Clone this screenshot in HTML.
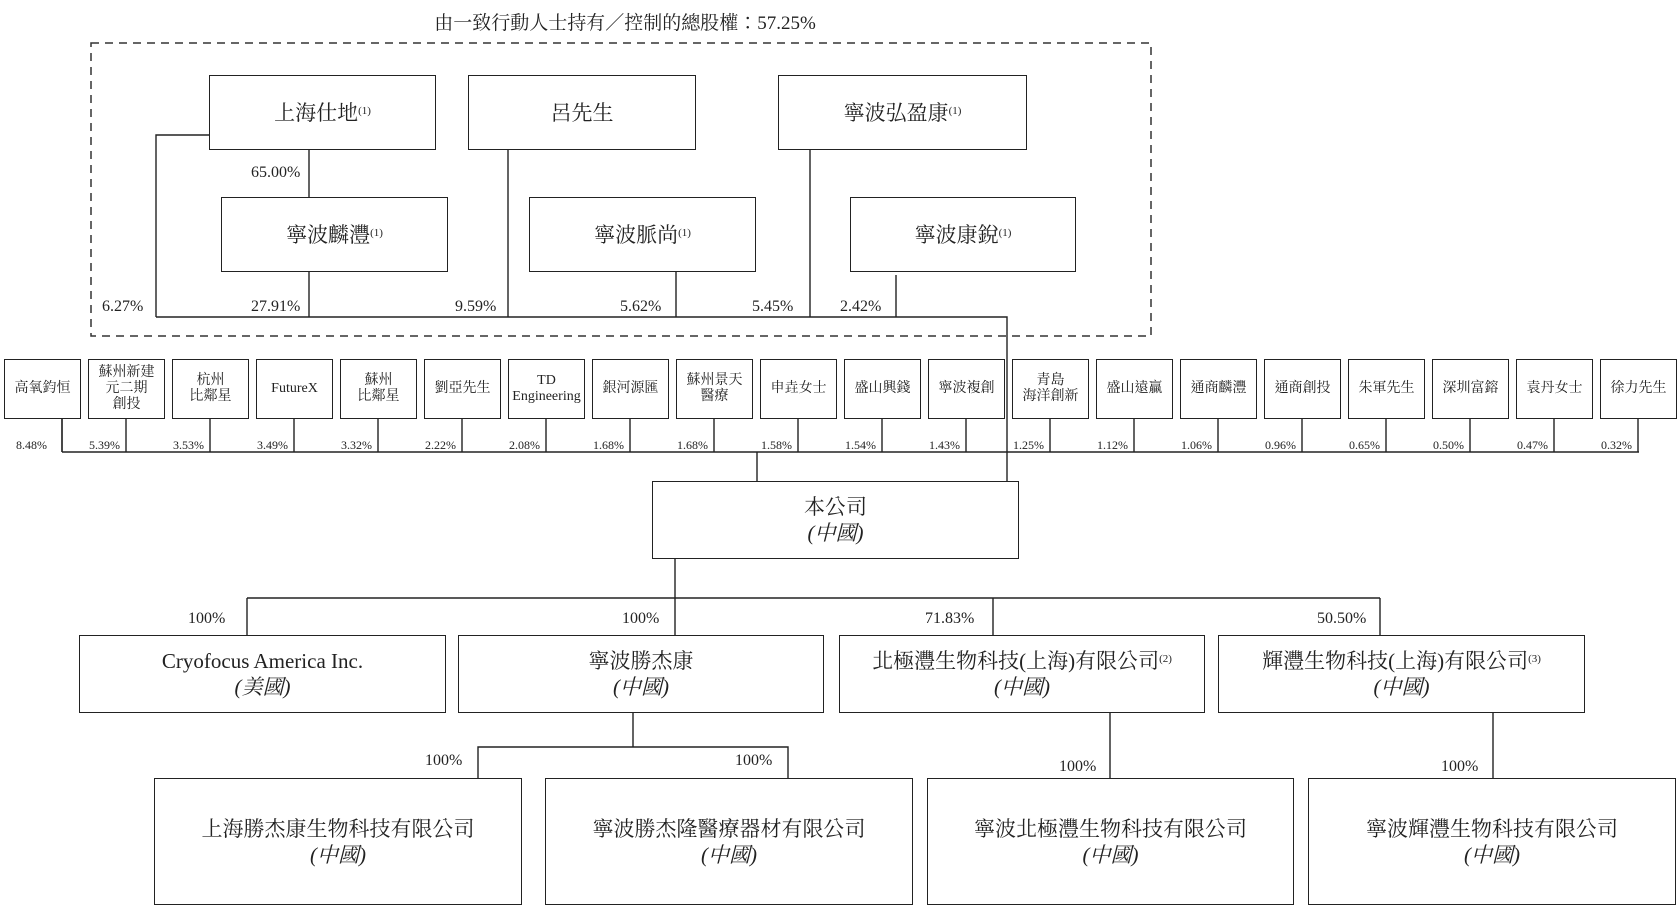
<!DOCTYPE html>
<html><head><meta charset="utf-8"><style>
body{margin:0;width:1680px;height:910px;background:#fff;position:relative;overflow:hidden;font-family:"Liberation Serif","Noto Serif CJK TC","Noto Serif CJK SC",serif;color:#222}
.b{position:absolute;border:1.6px solid #222;box-sizing:border-box;display:flex;flex-direction:column;align-items:center;justify-content:center;text-align:center;background:#fff}
.t{position:absolute;white-space:nowrap}
.s{font-size:14px;line-height:16px}
.p{position:absolute;font-size:12px;white-space:nowrap}
.q{position:absolute;font-size:16px;white-space:nowrap}
.big{font-size:21px;line-height:26px}
i{font-style:italic}
sup{font-size:11px;vertical-align:6px;line-height:0}
svg{position:absolute;left:0;top:0}
</style></head><body>
<svg width="1680" height="910">
<rect x="91" y="43" width="1060" height="293" fill="none" stroke="#333" stroke-width="1.5" stroke-dasharray="8,6"/>
<g stroke="#222" stroke-width="1.4" fill="none">
<polyline points="209,135 156,135 156,317"/>
<line x1="309" y1="150" x2="309" y2="197"/>
<line x1="309" y1="271" x2="309" y2="317"/>
<line x1="508" y1="150" x2="508" y2="317"/>
<line x1="676" y1="271" x2="676" y2="317"/>
<line x1="810" y1="150" x2="810" y2="317"/>
<line x1="896" y1="275" x2="896" y2="317"/>
<polyline points="156,317 1007,317 1007,481"/>
<line x1="62" y1="452" x2="1639" y2="452"/>
<line x1="757" y1="452" x2="757" y2="481"/>
<line x1="62" y1="418" x2="62" y2="452"/>
<g id="st"></g>
<line x1="675" y1="559" x2="675" y2="598"/>
<line x1="247" y1="598" x2="1380" y2="598"/>
<line x1="247" y1="598" x2="247" y2="635"/>
<line x1="675" y1="598" x2="675" y2="635"/>
<line x1="993" y1="598" x2="993" y2="635"/>
<line x1="1380" y1="598" x2="1380" y2="635"/>
<line x1="633" y1="713" x2="633" y2="747"/>
<polyline points="478,778 478,747 788,747 788,778"/>
<line x1="1110" y1="713" x2="1110" y2="778"/>
<line x1="1493" y1="713" x2="1493" y2="778"/>
</g>
</svg>
<div class="t" style="left:0;width:1250px;text-align:center;top:8px;font-size:19px">由一致行動人士持有／控制的總股權：57.25%</div>

<div class="b big" style="left:209px;top:75px;width:227px;height:75px"><div>上海仕地<sup>(1)</sup></div></div>
<div class="b big" style="left:468px;top:75px;width:228px;height:75px"><div>呂先生</div></div>
<div class="b big" style="left:778px;top:75px;width:249px;height:75px"><div>寧波弘盈康<sup>(1)</sup></div></div>
<div class="b big" style="left:221px;top:197px;width:227px;height:75px"><div>寧波麟灃<sup>(1)</sup></div></div>
<div class="b big" style="left:529px;top:197px;width:227px;height:75px"><div>寧波脈尚<sup>(1)</sup></div></div>
<div class="b big" style="left:850px;top:197px;width:226px;height:75px"><div>寧波康銳<sup>(1)</sup></div></div>
<div class="q" style="left:251px;top:164px">65.00%</div>
<div class="q" style="left:102px;top:298px">6.27%</div>
<div class="q" style="left:251px;top:298px">27.91%</div>
<div class="q" style="left:455px;top:298px">9.59%</div>
<div class="q" style="left:620px;top:298px">5.62%</div>
<div class="q" style="left:752px;top:298px">5.45%</div>
<div class="q" style="left:840px;top:298px">2.42%</div>

<div id="row"></div>

<div class="b big" style="left:652px;top:481px;width:367px;height:78px"><div>本公司</div><i>(中國)</i></div>

<div class="q" style="left:188px;top:610px">100%</div>
<div class="q" style="left:622px;top:610px">100%</div>
<div class="q" style="left:925px;top:610px">71.83%</div>
<div class="q" style="left:1317px;top:610px">50.50%</div>
<div class="b big" style="left:79px;top:635px;width:367px;height:78px"><div>Cryofocus America Inc.</div><i>(美國)</i></div>
<div class="b big" style="left:458px;top:635px;width:366px;height:78px"><div>寧波勝杰康</div><i>(中國)</i></div>
<div class="b big" style="left:839px;top:635px;width:366px;height:78px"><div>北極灃生物科技(上海)有限公司<sup>(2)</sup></div><i>(中國)</i></div>
<div class="b big" style="left:1218px;top:635px;width:367px;height:78px"><div>輝灃生物科技(上海)有限公司<sup>(3)</sup></div><i>(中國)</i></div>

<div class="q" style="left:425px;top:752px">100%</div>
<div class="q" style="left:735px;top:752px">100%</div>
<div class="q" style="left:1059px;top:758px">100%</div>
<div class="q" style="left:1441px;top:758px">100%</div>
<div class="b big" style="left:154px;top:778px;width:368px;height:127px"><div>上海勝杰康生物科技有限公司</div><i>(中國)</i></div>
<div class="b big" style="left:545px;top:778px;width:368px;height:127px"><div>寧波勝杰隆醫療器材有限公司</div><i>(中國)</i></div>
<div class="b big" style="left:927px;top:778px;width:367px;height:127px"><div>寧波北極灃生物科技有限公司</div><i>(中國)</i></div>
<div class="b big" style="left:1308px;top:778px;width:368px;height:127px"><div>寧波輝灃生物科技有限公司</div><i>(中國)</i></div>

<script>
var names=["高氧鈞恒","蘇州新建<br>元二期<br>創投","杭州<br>比鄰星","FutureX","蘇州<br>比鄰星","劉亞先生","TD<br>Engineering","銀河源匯","蘇州景天<br>醫療","申垚女士","盛山興錢","寧波複創","青島<br>海洋創新","盛山遠贏","通商麟灃","通商創投","朱軍先生","深圳富鎔","袁丹女士","徐力先生"];
var pc=["8.48%","5.39%","3.53%","3.49%","3.32%","2.22%","2.08%","1.68%","1.68%","1.58%","1.54%","1.43%","1.25%","1.12%","1.06%","0.96%","0.65%","0.50%","0.47%","0.32%"];
var h="",g="";
for(var i=0;i<20;i++){var l=4+84*i;var c=i==0?62:l+38;
h+='<div class="b s" style="left:'+l+'px;top:359px;width:77px;height:60px"><div>'+names[i]+'</div></div>';
if(i==0)h+='<div class="p" style="left:16px;top:438px">'+pc[i]+'</div>';
else h+='<div class="p" style="left:'+(c-50)+'px;width:44px;text-align:right;top:438px">'+pc[i]+'</div>';
g+='<line x1="'+c+'" y1="418" x2="'+c+'" y2="452"/>';}
document.getElementById("row").innerHTML=h;
document.getElementById("st").innerHTML=g;
</script>
</body></html>
